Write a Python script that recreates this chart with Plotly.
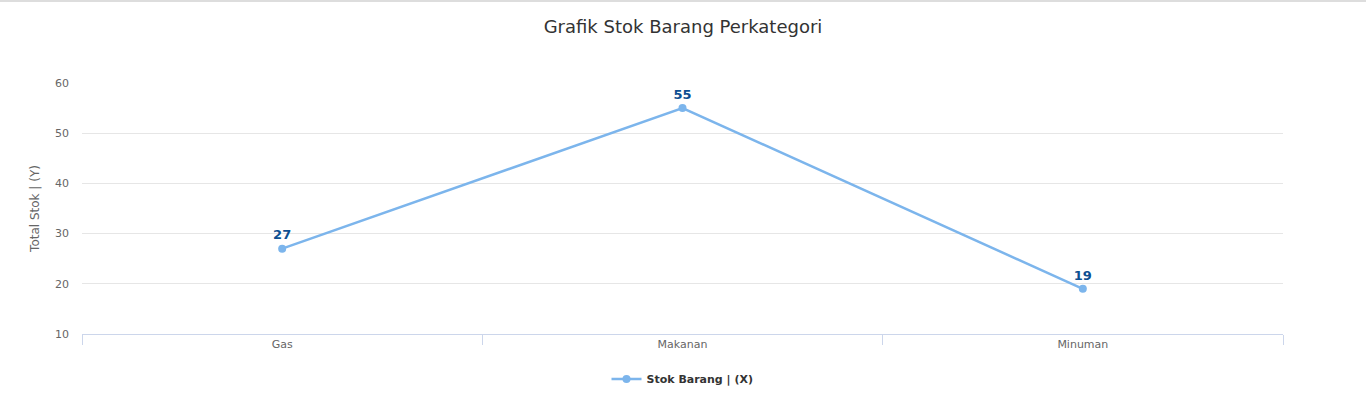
import plotly.graph_objects as go

categories = ["Gas", "Makanan", "Minuman"]
stok = [27, 55, 19]
y_ticks = [10, 20, 30, 40, 50, 60]

fig = go.Figure()
fig.add_trace(go.Scatter(
    x=categories, y=stok, mode="lines+markers+text",
    name="<b>Stok Barang | (X)</b>",
    line=dict(color="#7cb5ec", width=2.5),
    marker=dict(color="#7cb5ec", size=8),
    text=[str(v) for v in stok], textposition="top center",
    textfont=dict(family="DejaVu Sans", size=13, color="#0d4f91", weight="bold"),
    cliponaxis=False,
))

fig.update_layout(
    width=1366, height=398,
    margin=dict(l=82, r=83, t=83, b=64),
    paper_bgcolor="white", plot_bgcolor="white",
    title=dict(text="Grafik Stok Barang Perkategori", x=0.5, xanchor="center",
               y=1 - 27 / 398, yanchor="middle",
               font=dict(family="DejaVu Sans", size=18, color="#333333")),
    font=dict(family="DejaVu Sans", size=11, color="#666666"),
    showlegend=True,
    legend=dict(orientation="h", x=0.5, xanchor="center",
                yref="container", y=1 - 379 / 398, yanchor="middle",
                font=dict(family="DejaVu Sans", size=11, color="#333333")),
    xaxis=dict(
        type="category", range=[-0.5, 2.5], tickson="boundaries",
        ticks="outside", ticklen=10, tickcolor="#ccd6eb",
        showline=True, linecolor="#ccd6eb", linewidth=1,
        showgrid=False, zeroline=False,
        tickfont=dict(size=11, color="#666666"),
    ),
    yaxis=dict(
        range=[10, 60], tickvals=y_ticks,
        showgrid=True, gridcolor="#e6e6e6", gridwidth=1,
        zeroline=False, showline=False, ticks="", ticklabelstandoff=12,
        tickfont=dict(size=11, color="#666666"),
        title=dict(text="Total Stok | (Y)", font=dict(size=12, color="#666666"), standoff=12),
    ),
    shapes=[dict(type="line", xref="paper", yref="paper", x0=-0.1, x1=1.1,
                 y0=1 + 82 / 251, y1=1 + 82 / 251, line=dict(color="#dddddd", width=2))],
)

fig.write_html("out.html", config={"displayModeBar": False},
               post_script="document.body.style.margin='0';")
